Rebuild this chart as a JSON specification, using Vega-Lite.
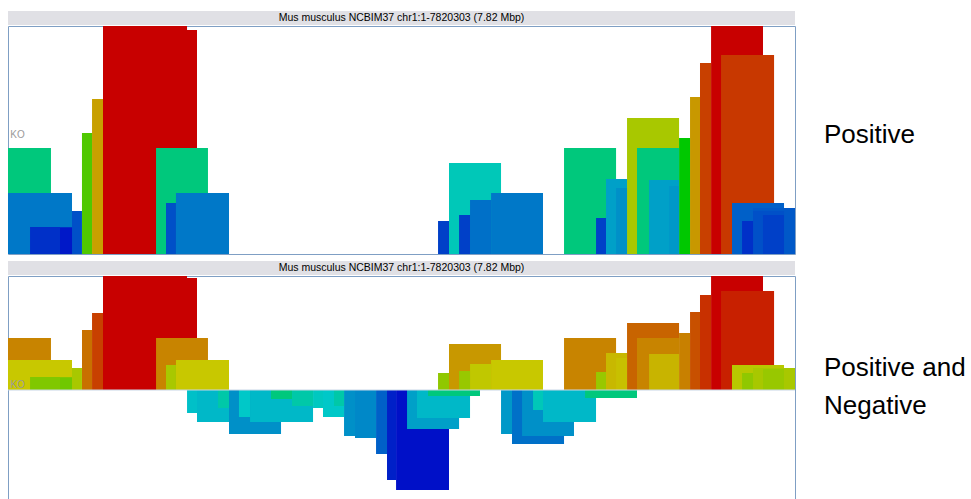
{
  "$schema": "https://vega.github.io/schema/vega-lite/v6.json",
  "padding": {"left": 7, "top": 11, "right": 0, "bottom": 0},
  "background": "white",
  "config": {"view": {"stroke": null}, "concat": {"spacing": 0}},
  "datasets": {
    "positive": [
      {"start": 0.944, "end": 1.779, "val": 240, "score": 1.0},
      {"start": 6.986, "end": 7.502, "val": 240, "score": 1.0},
      {"start": 1.361, "end": 1.878, "val": 224, "score": 1.0},
      {"start": 7.085, "end": 7.612, "val": 199, "score": 0.93},
      {"start": 6.876, "end": 6.986, "val": 191, "score": 0.92},
      {"start": 6.777, "end": 6.876, "val": 157, "score": 0.81},
      {"start": 0.835, "end": 0.944, "val": 155, "score": 0.8},
      {"start": 6.151, "end": 6.668, "val": 136, "score": 0.71},
      {"start": 0.735, "end": 0.835, "val": 121, "score": 0.6},
      {"start": 6.668, "end": 6.777, "val": 116, "score": 0.5},
      {"start": 0.0, "end": 0.427, "val": 106, "score": 0.345},
      {"start": 1.471, "end": 1.987, "val": 106, "score": 0.345},
      {"start": 5.525, "end": 6.042, "val": 106, "score": 0.345},
      {"start": 6.25, "end": 6.668, "val": 106, "score": 0.345},
      {"start": 4.382, "end": 4.899, "val": 91, "score": 0.27},
      {"start": 5.942, "end": 6.151, "val": 75, "score": 0.2},
      {"start": 6.37, "end": 6.668, "val": 74, "score": 0.2},
      {"start": 6.569, "end": 6.668, "val": 68, "score": 0.19},
      {"start": 6.042, "end": 6.151, "val": 66, "score": 0.18},
      {"start": 0.0, "end": 0.636, "val": 61, "score": 0.15},
      {"start": 1.669, "end": 2.196, "val": 61, "score": 0.15},
      {"start": 4.8, "end": 5.316, "val": 61, "score": 0.15},
      {"start": 4.591, "end": 4.8, "val": 54, "score": 0.14},
      {"start": 1.57, "end": 1.669, "val": 51, "score": 0.1},
      {"start": 7.194, "end": 7.711, "val": 51, "score": 0.12},
      {"start": 7.403, "end": 7.82, "val": 46, "score": 0.11},
      {"start": 0.636, "end": 0.735, "val": 43, "score": 0.1},
      {"start": 7.403, "end": 7.711, "val": 43, "score": 0.1},
      {"start": 4.482, "end": 4.591, "val": 39, "score": 0.08},
      {"start": 7.502, "end": 7.711, "val": 39, "score": 0.08},
      {"start": 5.843, "end": 5.942, "val": 36, "score": 0.08},
      {"start": 4.273, "end": 4.382, "val": 33, "score": 0.08},
      {"start": 7.294, "end": 7.403, "val": 33, "score": 0.06},
      {"start": 0.219, "end": 0.636, "val": 27, "score": 0.06},
      {"start": 0.517, "end": 0.636, "val": 26, "score": 0.03}
    ],
    "posneg": [
      {"start": 0.944, "end": 1.779, "val": 130, "score": 1.0},
      {"start": 6.986, "end": 7.502, "val": 130, "score": 1.0},
      {"start": 1.361, "end": 1.878, "val": 112, "score": 1.0},
      {"start": 7.085, "end": 7.612, "val": 99, "score": 0.96},
      {"start": 6.876, "end": 6.986, "val": 95, "score": 0.94},
      {"start": 6.777, "end": 6.876, "val": 78, "score": 0.9},
      {"start": 0.835, "end": 0.944, "val": 77, "score": 0.92},
      {"start": 6.151, "end": 6.668, "val": 67, "score": 0.875},
      {"start": 0.735, "end": 0.835, "val": 60, "score": 0.86},
      {"start": 6.668, "end": 6.777, "val": 57, "score": 0.84},
      {"start": 0.0, "end": 0.427, "val": 52, "score": 0.835},
      {"start": 1.471, "end": 1.987, "val": 52, "score": 0.835},
      {"start": 5.525, "end": 6.042, "val": 52, "score": 0.835},
      {"start": 6.25, "end": 6.668, "val": 52, "score": 0.835},
      {"start": 4.382, "end": 4.899, "val": 46, "score": 0.81},
      {"start": 5.942, "end": 6.151, "val": 37, "score": 0.77},
      {"start": 6.37, "end": 6.668, "val": 36, "score": 0.775},
      {"start": 6.042, "end": 6.151, "val": 32, "score": 0.76},
      {"start": 0.0, "end": 0.636, "val": 30, "score": 0.75},
      {"start": 1.669, "end": 2.196, "val": 30, "score": 0.75},
      {"start": 4.8, "end": 5.316, "val": 30, "score": 0.75},
      {"start": 4.591, "end": 4.8, "val": 26, "score": 0.74},
      {"start": 1.57, "end": 1.669, "val": 25, "score": 0.71},
      {"start": 7.194, "end": 7.711, "val": 25, "score": 0.73},
      {"start": 0.636, "end": 0.735, "val": 22, "score": 0.71},
      {"start": 7.403, "end": 7.82, "val": 22, "score": 0.71},
      {"start": 7.502, "end": 7.711, "val": 21, "score": 0.69},
      {"start": 4.482, "end": 4.591, "val": 19, "score": 0.69},
      {"start": 5.843, "end": 5.942, "val": 18, "score": 0.69},
      {"start": 4.273, "end": 4.382, "val": 17, "score": 0.68},
      {"start": 7.294, "end": 7.403, "val": 17, "score": 0.68},
      {"start": 0.219, "end": 0.636, "val": 13, "score": 0.66},
      {"start": 0.517, "end": 0.636, "val": 12, "score": 0.64},
      {"start": 3.856, "end": 4.382, "val": -100, "score": 0.02},
      {"start": 3.766, "end": 3.856, "val": -90, "score": 0.04},
      {"start": 3.657, "end": 3.766, "val": -64, "score": 0.12},
      {"start": 5.008, "end": 5.525, "val": -54, "score": 0.14},
      {"start": 3.448, "end": 3.657, "val": -48, "score": 0.17},
      {"start": 3.339, "end": 3.448, "val": -46, "score": 0.18},
      {"start": 5.108, "end": 5.624, "val": -46, "score": 0.18},
      {"start": 2.196, "end": 2.713, "val": -44, "score": 0.18},
      {"start": 4.899, "end": 5.008, "val": -44, "score": 0.19},
      {"start": 3.965, "end": 4.482, "val": -39, "score": 0.2},
      {"start": 1.878, "end": 2.196, "val": -32, "score": 0.23},
      {"start": 2.405, "end": 3.031, "val": -32, "score": 0.23},
      {"start": 5.316, "end": 5.843, "val": -32, "score": 0.23},
      {"start": 4.064, "end": 4.591, "val": -28, "score": 0.23},
      {"start": 2.295, "end": 2.405, "val": -27, "score": 0.25},
      {"start": 3.13, "end": 3.339, "val": -27, "score": 0.25},
      {"start": 1.779, "end": 1.878, "val": -23, "score": 0.24},
      {"start": 5.217, "end": 5.316, "val": -20, "score": 0.27},
      {"start": 2.087, "end": 2.196, "val": -18, "score": 0.29},
      {"start": 3.031, "end": 3.13, "val": -18, "score": 0.26},
      {"start": 2.822, "end": 3.031, "val": -16, "score": 0.29},
      {"start": 3.239, "end": 3.339, "val": -16, "score": 0.29},
      {"start": 2.613, "end": 2.822, "val": -9, "score": 0.345},
      {"start": 5.734, "end": 6.25, "val": -8, "score": 0.345},
      {"start": 4.174, "end": 4.69, "val": -6, "score": 0.345}
    ]
  },
  "vconcat": [
    {
      "hconcat": [
        {
          "vconcat": [
            {
              "width": 787, "height": 14,
              "view": {"fill": "#e0e0e5", "stroke": null},
              "data": {"values": [{"t": "Mus musculus NCBIM37 chr1:1-7820303 (7.82 Mbp)"}]},
              "mark": {"type": "text", "font": "Liberation Sans", "fontSize": 10.5, "color": "#000000", "baseline": "middle"},
              "encoding": {"text": {"field": "t"}}
            },
            {
              "width": 787, "height": 228,
              "view": {"stroke": "#7f9fc4", "fill": "white"},
              "layer": [
                {
                  "data": {"name": "positive"},
                  "mark": {"type": "rect", "clip": true},
                  "encoding": {
                    "x": {"field": "start", "type": "quantitative", "scale": {"domain": [0, 7.82], "nice": false, "zero": false}, "axis": null},
                    "x2": {"field": "end"},
                    "y": {"field": "val", "type": "quantitative", "scale": {"domain": [0, 228], "nice": false}, "axis": null},
                    "y2": {"datum": 0},
                    "color": {"field": "score", "type": "quantitative", "scale": {"domain": [0, 0.25, 0.5, 0.75, 1], "range": ["#0000c8", "#00c8c8", "#00c800", "#c8c800", "#c80000"], "interpolate": "rgb"}, "legend": null}
                  }
                },
                {
                  "data": {"values": [{"label": "KO"}]},
                  "mark": {"type": "text", "align": "left", "baseline": "alphabetic", "font": "Liberation Sans", "fontSize": 10, "color": "#9a9a9a"},
                  "encoding": {
                    "x": {"datum": 0.022, "type": "quantitative"},
                    "y": {"datum": 116, "type": "quantitative"},
                    "text": {"field": "label"}
                  }
                }
              ]
            }
          ],
          "spacing": 0
        },
        {
          "width": 176, "height": 242,
          "view": {"stroke": null},
          "data": {"values": [{"t": "Positive"}]},
          "mark": {"type": "text", "align": "left", "baseline": "alphabetic", "font": "Liberation Sans", "fontSize": 26, "color": "#000000"},
          "encoding": {"x": {"value": 28}, "y": {"value": 132}, "text": {"field": "t"}}
        }
      ],
      "spacing": 0
    },
    {
      "hconcat": [
        {
          "vconcat": [
            {
              "width": 787, "height": 14,
              "view": {"fill": "#e0e0e5", "stroke": null},
              "data": {"values": [{"t": "Mus musculus NCBIM37 chr1:1-7820303 (7.82 Mbp)"}]},
              "mark": {"type": "text", "font": "Liberation Sans", "fontSize": 10.5, "color": "#000000", "baseline": "middle"},
              "encoding": {"text": {"field": "t"}}
            },
            {
              "width": 787, "height": 230,
              "view": {"stroke": "#7f9fc4", "fill": "white"},
              "layer": [
                {
                  "data": {"name": "posneg"},
                  "mark": {"type": "rect", "clip": true},
                  "encoding": {
                    "x": {"field": "start", "type": "quantitative", "scale": {"domain": [0, 7.82], "nice": false, "zero": false}, "axis": null},
                    "x2": {"field": "end"},
                    "y": {"field": "val", "type": "quantitative", "scale": {"domain": [-116, 114], "nice": false}, "axis": null},
                    "y2": {"datum": 0},
                    "color": {"field": "score", "type": "quantitative", "scale": {"domain": [0, 0.25, 0.5, 0.75, 1], "range": ["#0000c8", "#00c8c8", "#00c800", "#c8c800", "#c80000"], "interpolate": "rgb"}, "legend": null}
                  }
                },
                {
                  "data": {"values": [{"z": 0}]},
                  "mark": {"type": "rule", "color": "#c8d6e6", "strokeWidth": 1},
                  "encoding": {"y": {"field": "z", "type": "quantitative"}}
                },
                {
                  "data": {"values": [{"label": "KO"}]},
                  "mark": {"type": "text", "align": "left", "baseline": "alphabetic", "font": "Liberation Sans", "fontSize": 10, "color": "#9a9a9a"},
                  "encoding": {
                    "x": {"datum": 0.022, "type": "quantitative"},
                    "y": {"datum": 2, "type": "quantitative"},
                    "text": {"field": "label"}
                  }
                }
              ]
            }
          ],
          "spacing": 0
        },
        {
          "width": 176, "height": 244,
          "view": {"stroke": null},
          "data": {"values": [{"t": ["Positive and", "Negative"]}]},
          "mark": {"type": "text", "align": "left", "baseline": "alphabetic", "font": "Liberation Sans", "fontSize": 26, "lineHeight": 38, "color": "#000000"},
          "encoding": {"x": {"value": 28}, "y": {"value": 115}, "text": {"field": "t"}}
        }
      ],
      "spacing": 0
    }
  ],
  "spacing": 6
}
